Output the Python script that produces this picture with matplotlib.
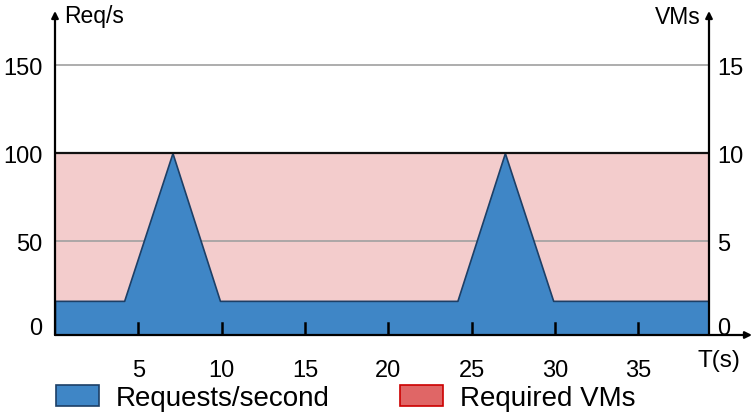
import matplotlib.pyplot as plt
import matplotlib.transforms as mtransforms
from matplotlib.patches import Patch

plt.rcParams["font.family"] = ["Liberation Sans", "DejaVu Sans"]

# request rate over time
time_s = [0, 4.15, 7.05, 9.9, 24.15, 27.0, 29.9, 39.25]
req_per_s = [16, 16, 100, 16, 16, 100, 16, 16]

# required VMs (constant)
vm_time = [0, 39.25]
required_vms = [10, 10]

x_ticks = [5, 10, 15, 20, 25, 30, 35]
req_ticks = [0, 50, 100, 150]
vm_ticks = [0, 5, 10, 15]

W, H = 753, 414
fig = plt.figure(figsize=(W / 100, H / 100), dpi=100)
ax = fig.add_axes([55 / W, (H - 336) / H, (709 - 55) / W, (336 - 12) / H])

ymin, ymax = -3.4, 180.7
ax.set_xlim(0, 39.25)
ax.set_ylim(ymin, ymax)

# required VMs band (in req/s scale, 10 VMs == 100 req/s)
vm_as_req = [v * 10 for v in required_vms]
ax.fill_between(vm_time, ymin, vm_as_req, color="#f3cccc", lw=0, zorder=0.5)
ax.plot(vm_time, vm_as_req, color="#111111", lw=1.6, zorder=2.2)

# grid lines
for g in [50, 150]:
    ax.axhline(g, color="#a0a0a0", lw=1.2, zorder=1)

ax.fill_between(time_s, ymin, req_per_s, color="#3f86c6", edgecolor="#1d3f66",
                lw=1.2, zorder=2)

# inward tick marks on the time axis
for xt in x_ticks:
    ax.axvline(xt, ymin=0, ymax=12 / 324, color="#000000", lw=1.8, zorder=5)

for s in ["top", "right", "bottom", "left"]:
    ax.spines[s].set_visible(False)

ax.set_xticks(x_ticks)
ax.tick_params(axis="x", length=0, pad=17, labelsize=17)
ax.set_yticks(req_ticks)
ax.tick_params(axis="y", length=0, pad=9, labelsize=17)

ax2 = ax.twinx()
ax2.set_ylim(ymin / 10, ymax / 10)
ax2.set_yticks(vm_ticks)
ax2.tick_params(axis="y", length=0, pad=6, labelsize=17)
for s in ["top", "right", "bottom", "left"]:
    ax2.spines[s].set_visible(False)

# lift the "0" labels a little off the time axis
lift = mtransforms.ScaledTranslation(0, 4 / 100, fig.dpi_scale_trans)
for lab in [ax.get_yticklabels()[0], ax2.get_yticklabels()[0]]:
    lab.set_transform(lab.get_transform() + lift)

# axis lines with arrows
arrow = dict(arrowstyle="-|>", color="black", lw=1.6, mutation_scale=10,
             shrinkA=0, shrinkB=0)
for start, end in [((0, 0), (0, 1)), ((1, 0), (1, 1)),
                   ((0, 0), ((752 - 55) / 654, 0))]:
    ax2.annotate("", xy=end, xytext=start, xycoords="axes fraction",
                 arrowprops=arrow, zorder=6)

fig.text(64 / W, 1 - 17 / H, "Req/s", fontsize=16.5, ha="left", va="center")
fig.text(701 / W, 1 - 17 / H, "VMs", fontsize=16.5, ha="right", va="center")
fig.text(719 / W, 1 - 361 / H, "T(s)", fontsize=17.5, ha="center", va="center")

handles = [
    Patch(facecolor="#3f86c6", edgecolor="#1d3f66", lw=1.2, label="Requests/second"),
    Patch(facecolor="#e06666", edgecolor="#cc0000", lw=1.2, label="Required VMs"),
]
fig.legend(handles=handles, loc="center left", bbox_to_anchor=(56 / W, 1 - 399 / H),
           ncol=2, frameon=False, fontsize=20, handlelength=1.55, handleheight=0.8,
           handletextpad=0.6, columnspacing=2.55, borderpad=0, borderaxespad=0)

fig.savefig("out.png", dpi=100)
